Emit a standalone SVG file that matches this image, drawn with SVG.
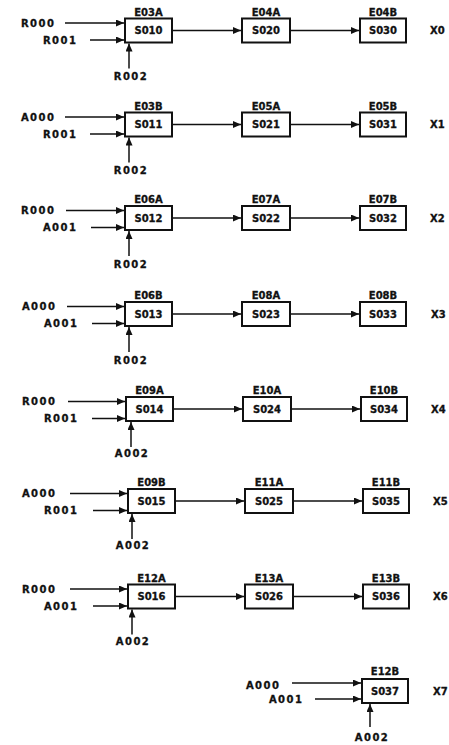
<svg xmlns="http://www.w3.org/2000/svg" width="449" height="745" viewBox="0 0 449 745">
<style>
text{font-family:"DejaVu Sans","Liberation Sans",sans-serif;font-weight:bold;font-size:10px;fill:#111;stroke:#111;stroke-width:0.3}
.in{letter-spacing:1.5px;text-anchor:end}
.inc{letter-spacing:1.5px;text-anchor:middle}
.c{text-anchor:middle}
.box{fill:#fff;stroke:#111;stroke-width:2}
.ln{stroke:#111;stroke-width:1.5;fill:none;marker-end:url(#ah)}
</style>
<defs>
<marker id="ah" markerUnits="userSpaceOnUse" markerWidth="9" markerHeight="8" refX="8" refY="3.5" orient="auto"><path d="M0,0 L8,3.5 L0,7 z" fill="#111"/></marker>
</defs>
<rect width="449" height="745" fill="#fff"/>
<g id="connectors">
<path class="ln" d="M65,23 H124"/><path class="ln" d="M90,40 H124"/><path class="ln" d="M129,68.5 V43.5"/>
<path class="ln" d="M172,30.5 H241"/><path class="ln" d="M290,30.5 H359"/>
<path class="ln" d="M65,117 H124"/><path class="ln" d="M90,134 H124"/><path class="ln" d="M129,162.5 V137.5"/>
<path class="ln" d="M172,124.5 H241"/><path class="ln" d="M290,124.5 H359"/>
<path class="ln" d="M66,210.5 H124"/><path class="ln" d="M91,227.5 H124"/><path class="ln" d="M129,256 V231"/>
<path class="ln" d="M172,218 H241"/><path class="ln" d="M290,218 H359"/>
<path class="ln" d="M67,306.5 H124"/><path class="ln" d="M92,323.5 H124"/><path class="ln" d="M129,352 V327"/>
<path class="ln" d="M172,314 H241"/><path class="ln" d="M290,314 H359"/>
<path class="ln" d="M68,401.5 H125"/><path class="ln" d="M92,418.5 H125"/><path class="ln" d="M131,447 V422"/>
<path class="ln" d="M173,409 H242"/><path class="ln" d="M291,409 H360"/>
<path class="ln" d="M70,493.5 H127"/><path class="ln" d="M93,510.5 H127"/><path class="ln" d="M132,539 V514"/>
<path class="ln" d="M175,501 H244"/><path class="ln" d="M293,501 H362"/>
<path class="ln" d="M70,589 H127"/><path class="ln" d="M93,606 H127"/><path class="ln" d="M132,634.5 V609.5"/>
<path class="ln" d="M175,596.5 H244"/><path class="ln" d="M293,596.5 H362"/>
<path class="ln" d="M292,683 H361"/><path class="ln" d="M315,699 H361"/><path class="ln" d="M370,727 V704"/>
</g>

<g id="in_r0"><text class="in" x="55.5" y="26.5">R000</text><text class="in" x="77.5" y="43.5">R001</text><text class="inc" x="131" y="80">R002</text></g>
<g id="S010"><rect class="box" x="125" y="18.5" width="47" height="24"/><text class="c" x="148.5" y="15.5">E03A</text><text class="c" x="148.5" y="34">S010</text></g>
<g id="S020"><rect class="box" x="242" y="18.5" width="48" height="24"/><text class="c" x="266" y="15.5">E04A</text><text class="c" x="266" y="34">S020</text></g>
<g id="S030"><rect class="box" x="360" y="18.5" width="46" height="24"/><text class="c" x="383" y="15.5">E04B</text><text class="c" x="383" y="34">S030</text></g>
<g id="X0"><text x="430" y="34">X0</text></g>

<g id="in_r1"><text class="in" x="55.5" y="120.5">A000</text><text class="in" x="77.5" y="137.5">R001</text><text class="inc" x="131" y="174">R002</text></g>
<g id="S011"><rect class="box" x="125" y="112.5" width="47" height="24"/><text class="c" x="148.5" y="109.5">E03B</text><text class="c" x="148.5" y="128">S011</text></g>
<g id="S021"><rect class="box" x="242" y="112.5" width="48" height="24"/><text class="c" x="266" y="109.5">E05A</text><text class="c" x="266" y="128">S021</text></g>
<g id="S031"><rect class="box" x="360" y="112.5" width="46" height="24"/><text class="c" x="383" y="109.5">E05B</text><text class="c" x="383" y="128">S031</text></g>
<g id="X1"><text x="430" y="128">X1</text></g>

<g id="in_r2"><text class="in" x="55.5" y="214">R000</text><text class="in" x="77.5" y="231">A001</text><text class="inc" x="131" y="267.5">R002</text></g>
<g id="S012"><rect class="box" x="125" y="206" width="47" height="24"/><text class="c" x="148.5" y="203">E06A</text><text class="c" x="148.5" y="221.5">S012</text></g>
<g id="S022"><rect class="box" x="242" y="206" width="48" height="24"/><text class="c" x="266" y="203">E07A</text><text class="c" x="266" y="221.5">S022</text></g>
<g id="S032"><rect class="box" x="360" y="206" width="46" height="24"/><text class="c" x="383" y="203">E07B</text><text class="c" x="383" y="221.5">S032</text></g>
<g id="X2"><text x="430" y="221.5">X2</text></g>

<g id="in_r3"><text class="in" x="56.5" y="310">A000</text><text class="in" x="78.5" y="327">A001</text><text class="inc" x="131" y="363.5">R002</text></g>
<g id="S013"><rect class="box" x="125" y="302" width="47" height="24"/><text class="c" x="148.5" y="299">E06B</text><text class="c" x="148.5" y="317.5">S013</text></g>
<g id="S023"><rect class="box" x="242" y="302" width="48" height="24"/><text class="c" x="266" y="299">E08A</text><text class="c" x="266" y="317.5">S023</text></g>
<g id="S033"><rect class="box" x="360" y="302" width="46" height="24"/><text class="c" x="383" y="299">E08B</text><text class="c" x="383" y="317.5">S033</text></g>
<g id="X3"><text x="431" y="317.5">X3</text></g>

<g id="in_r4"><text class="in" x="56.5" y="405">R000</text><text class="in" x="78.5" y="422">R001</text><text class="inc" x="132" y="457">A002</text></g>
<g id="S014"><rect class="box" x="126" y="397" width="47" height="24"/><text class="c" x="149.5" y="394">E09A</text><text class="c" x="149.5" y="412.5">S014</text></g>
<g id="S024"><rect class="box" x="243" y="397" width="48" height="24"/><text class="c" x="267" y="394">E10A</text><text class="c" x="267" y="412.5">S024</text></g>
<g id="S034"><rect class="box" x="361" y="397" width="46" height="24"/><text class="c" x="384" y="394">E10B</text><text class="c" x="384" y="412.5">S034</text></g>
<g id="X4"><text x="431" y="412.5">X4</text></g>

<g id="in_r5"><text class="in" x="56.5" y="497">A000</text><text class="in" x="78.5" y="514">R001</text><text class="inc" x="133" y="549">A002</text></g>
<g id="S015"><rect class="box" x="128" y="489" width="47" height="24"/><text class="c" x="151.5" y="486">E09B</text><text class="c" x="151.5" y="504.5">S015</text></g>
<g id="S025"><rect class="box" x="245" y="489" width="48" height="24"/><text class="c" x="269" y="486">E11A</text><text class="c" x="269" y="504.5">S025</text></g>
<g id="S035"><rect class="box" x="363" y="489" width="46" height="24"/><text class="c" x="386" y="486">E11B</text><text class="c" x="386" y="504.5">S035</text></g>
<g id="X5"><text x="433" y="504.5">X5</text></g>

<g id="in_r6"><text class="in" x="56.5" y="592.5">R000</text><text class="in" x="78.5" y="609.5">A001</text><text class="inc" x="133" y="644.5">A002</text></g>
<g id="S016"><rect class="box" x="128" y="584.5" width="47" height="24"/><text class="c" x="151.5" y="581.5">E12A</text><text class="c" x="151.5" y="600">S016</text></g>
<g id="S026"><rect class="box" x="245" y="584.5" width="48" height="24"/><text class="c" x="269" y="581.5">E13A</text><text class="c" x="269" y="600">S026</text></g>
<g id="S036"><rect class="box" x="363" y="584.5" width="46" height="24"/><text class="c" x="386" y="581.5">E13B</text><text class="c" x="386" y="600">S036</text></g>
<g id="X6"><text x="433" y="600">X6</text></g>

<g id="in_r7"><text class="in" x="280.5" y="688.5">A000</text><text class="in" x="303.5" y="702.5">A001</text><text class="inc" x="372" y="740.5">A002</text></g>
<g id="S037"><rect class="box" x="362" y="679" width="46" height="24"/><text class="c" x="385" y="675">E12B</text><text class="c" x="385" y="694.5">S037</text></g>
<g id="X7"><text x="433" y="694.5">X7</text></g>
</svg>
